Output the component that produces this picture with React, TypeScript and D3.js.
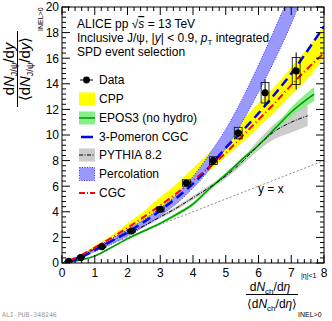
import React from "react";
import * as d3 from "d3";

// measured points
const dataX = [0.2, 0.57, 1.22, 2.12, 3.0, 3.8, 4.62, 5.38, 6.2, 7.15];
const dataY = [0.12, 0.42, 1.28, 2.5, 4.2, 6.25, 8.0, 10.15, 13.3, 15.0];
const dataStat = [0.01, 0.01, 0.03, 0.05, 0.08, 0.12, 0.2, 0.35, 1.05, 1.45];
const dataSys = [0.02, 0.03, 0.06, 0.1, 0.17, 0.25, 0.3, 0.45, 0.8, 1.05];

// models
const modelX = [0.2, 0.5, 1, 1.5, 2, 2.5, 3, 3.5, 4, 4.5, 5, 5.5, 6, 6.5, 7, 7.5, 8];
const cppMid = [0.15, 0.45, 1.2, 1.9, 2.75, 3.6, 4.6, 5.6, 6.7, 7.9, 9.1, 10.3, 11.55, 12.8, 14.2, 15.6, 17.3];
const cppHalf = [0.03, 0.08, 0.15, 0.25, 0.35, 0.45, 0.55, 0.6, 0.7, 0.75, 0.8, 0.9, 0.95, 1.0, 1.1, 1.2, 1.3];
const pomeron = [0.1, 0.35, 1.0, 1.7, 2.4, 3.2, 4.1, 5.1, 6.2, 7.5, 9.0, 10.3, 11.7, 13.2, 14.8, 16.6, 18.5];
const cgc = [0.15, 0.5, 1.2, 1.95, 2.75, 3.6, 4.5, 5.45, 6.45, 7.5, 8.6, 9.9, 11.2, 12.5, 13.9, 15.2, 16.4];

const percX = [0.2, 1, 2, 3, 3.5, 4, 4.5, 5, 5.5, 6, 6.5, 7, 7.3];
const percMid = [0.12, 1.05, 2.35, 4.0, 5.0, 6.3, 7.9, 9.7, 11.9, 14.4, 17.1, 20.0, 22.0];
const percHalf = [0.05, 0.15, 0.25, 0.3, 0.35, 0.45, 0.6, 0.75, 0.9, 1.05, 1.2, 1.3, 1.4];

const eposX = [0.2, 0.5, 1, 1.5, 2, 2.5, 3, 3.5, 4, 4.5, 5, 5.5, 6, 6.5, 7, 7.7];
const epos = [0.05, 0.2, 0.55, 1.2, 1.9, 2.5, 3.1, 3.8, 4.6, 5.8, 6.9, 8.1, 9.2, 10.5, 11.8, 13.2];
const eposHalf = [0.02, 0.03, 0.05, 0.07, 0.08, 0.1, 0.1, 0.12, 0.14, 0.15, 0.15, 0.15, 0.15, 0.2, 0.35, 0.55];

const pyX = [0.2, 0.5, 1, 1.5, 2, 2.5, 3, 3.5, 4, 4.5, 5, 5.5, 6, 6.5, 7, 7.5];
const pythia = [0.12, 0.4, 1.1, 1.7, 2.3, 2.9, 3.6, 4.3, 5.1, 5.9, 6.8, 7.9, 9.2, 10.3, 11.0, 11.5];
const pyHalf = [0.02, 0.03, 0.05, 0.07, 0.08, 0.1, 0.12, 0.14, 0.16, 0.18, 0.2, 0.25, 0.4, 0.6, 0.8, 0.8];

const legendLabels = ["Data", "CPP", "EPOS3 (no hydro)", "3-Pomeron CGC", "PYTHIA 8.2", "Percolation", "CGC"];

const W = 332;
const H = 321;
const m = { left: 62, right: 324, top: 7, bottom: 263 };
const font = "Liberation Sans, Arial, Helvetica, sans-serif";

export default function App() {
  const x = d3.scaleLinear().domain([0, 8]).range([m.left, m.right]);
  const y = d3.scaleLinear().domain([0, 20]).range([m.bottom, m.top]);

  const band = (xs: number[], mid: number[], half: number[]) =>
    d3
      .area<number>()
      .x((_, i) => x(xs[i]))
      .y0((_, i) => y(mid[i] - half[i]))
      .y1((_, i) => y(mid[i] + half[i]))
      .curve(d3.curveMonotoneX)(mid) || "";
  const line = (xs: number[], vals: number[]) =>
    d3
      .line<number>()
      .x((_, i) => x(xs[i]))
      .y((d) => y(d))
      .curve(d3.curveMonotoneX)(vals) || "";

  const xMinor = d3.range(0, 8.0001, 0.2);
  const yMinor = d3.range(0, 20.0001, 0.4);
  const xMajor = d3.range(0, 9, 1);
  const yMajor = d3.range(0, 21, 2);

  const legY = [80, 99, 118, 137, 155, 174, 193];

  return (
    <svg width={W} height={H} style={{ position: "absolute", left: 0, top: 0, background: "#fff" }} fontFamily={font}>
      <defs>
        <clipPath id="plot">
          <rect x={m.left} y={m.top} width={m.right - m.left} height={m.bottom - m.top} />
        </clipPath>
      </defs>

      <g clipPath="url(#plot)">
        {/* y = x */}
        <line x1={x(0)} y1={y(0)} x2={x(8)} y2={y(8)} stroke="#888" strokeDasharray="2,2" strokeWidth={1} />
        {/* CPP */}
        <path d={band(modelX, cppMid, cppHalf)} fill="#ffff00" />
        {/* PYTHIA band */}
        <path d={band(pyX, pythia, pyHalf)} fill="#cccccc" />
        {/* EPOS band */}
        <path d={band(eposX, epos, eposHalf)} fill="#88ee88" />
        {/* Percolation */}
        <path d={band(percX, percMid, percHalf)} fill="#9999ff" stroke="#3333ff" strokeWidth={1} strokeDasharray="1,1.5" />
        <path d={line(eposX, epos)} fill="none" stroke="#009900" strokeWidth={1.5} />
        <path d={line(pyX, pythia)} fill="none" stroke="#000" strokeWidth={1} strokeDasharray="4,1.5,1,1.5" />
        <path d={line(modelX, pomeron)} fill="none" stroke="#0000ff" strokeWidth={2.5} strokeDasharray="9,5" />
        <path d={line(modelX, cgc)} fill="none" stroke="#ff0000" strokeWidth={2} strokeDasharray="7,3,1,3" />

        {/* data */}
        {dataX.map((d, i) => (
          <g key={i}>
            <rect
              x={x(d - 0.12)}
              y={y(dataY[i] + dataSys[i])}
              width={x(d + 0.12) - x(d - 0.12)}
              height={y(dataY[i] - dataSys[i]) - y(dataY[i] + dataSys[i])}
              fill="none"
              stroke="#000"
              strokeWidth={0.8}
            />
            <line x1={x(d)} x2={x(d)} y1={y(dataY[i] - dataStat[i])} y2={y(dataY[i] + dataStat[i])} stroke="#000" strokeWidth={1} />
            <circle cx={x(d)} cy={y(dataY[i])} r={3.6} fill="#000" />
          </g>
        ))}
      </g>

      {/* frame and ticks */}
      <rect x={m.left} y={m.top} width={m.right - m.left} height={m.bottom - m.top} fill="none" stroke="#000" strokeWidth={1} />
      {xMinor.map((v, i) => {
        const len = Math.abs(v - Math.round(v)) < 1e-6 ? 8 : 4;
        return (
          <g key={"xt" + i}>
            <line x1={x(v)} x2={x(v)} y1={m.bottom} y2={m.bottom - len} stroke="#000" />
            <line x1={x(v)} x2={x(v)} y1={m.top} y2={m.top + len} stroke="#000" />
          </g>
        );
      })}
      {yMinor.map((v, i) => {
        const len = Math.abs(v / 2 - Math.round(v / 2)) < 1e-6 ? 8 : 4;
        return (
          <g key={"yt" + i}>
            <line x1={m.left} x2={m.left + len} y1={y(v)} y2={y(v)} stroke="#000" />
            <line x1={m.right} x2={m.right - len} y1={y(v)} y2={y(v)} stroke="#000" />
          </g>
        );
      })}
      {xMajor.map((v) => (
        <text key={"xl" + v} x={x(v)} y={276.5} fontSize={12} textAnchor="middle">
          {v}
        </text>
      ))}
      {yMajor.map((v) => (
        <text key={"yl" + v} x={59} y={y(v) + 4.3} fontSize={12} textAnchor="end">
          {v}
        </text>
      ))}

      {/* header */}
      <text x={77} y={28} fontSize={12}>
        ALICE pp <tspan>√</tspan>
        <tspan fontStyle="italic" style={{ textDecoration: "overline" }}>s</tspan> = 13 TeV
      </text>
      <text x={77} y={42} fontSize={12}>
        Inclusive J/ψ, |<tspan fontStyle="italic">y</tspan>| &lt; 0.9, <tspan fontStyle="italic">p</tspan>
        <tspan fontSize={8} dy={3}>T</tspan>
        <tspan dy={-3}> integrated</tspan>
      </text>
      <text x={77} y={56} fontSize={12}>
        SPD event selection
      </text>

      {/* legend */}
      <g fontSize={12}>
        {legendLabels.map((t, i) => (
          <text key={t} x={99} y={legY[i] + 4.3}>
            {t}
          </text>
        ))}
        <line x1={80} x2={93} y1={legY[0]} y2={legY[0]} stroke="#000" />
        <circle cx={86.5} cy={legY[0]} r={3.4} fill="#000" />
        <rect x={79} y={legY[1] - 6.5} width={16} height={13} fill="#ffff00" />
        <rect x={79} y={legY[2] - 6.5} width={16} height={13} fill="#88ee88" />
        <line x1={79} x2={95} y1={legY[2]} y2={legY[2]} stroke="#009900" strokeWidth={1.5} />
        <line x1={81} x2={93} y1={legY[3]} y2={legY[3]} stroke="#0000ff" strokeWidth={2.5} />
        <rect x={79} y={legY[4] - 6.5} width={16} height={13} fill="#cccccc" />
        <line x1={79} x2={95} y1={legY[4]} y2={legY[4]} stroke="#000" strokeDasharray="4,1.5,1,1.5" />
        <rect x={79.5} y={legY[5] - 6.5} width={15} height={13} fill="#9999ff" stroke="#3333ff" strokeDasharray="1,1.5" />
        <line x1={79} x2={95} y1={legY[6]} y2={legY[6]} stroke="#ff0000" strokeWidth={2} strokeDasharray="6,2,1,2" />
      </g>

      {/* y = x label */}
      <text x={258} y={193} fontSize={12}>
        y = x
      </text>

      {/* y title */}
      <g transform="translate(0,69) rotate(-90)" fontSize={15}>
        <text x={0} y={14} textAnchor="middle">
          d<tspan fontStyle="italic">N</tspan>
          <tspan fontSize={9} dy={3}>J/ψ</tspan>
          <tspan dy={-3}>/d</tspan>
          <tspan fontStyle="italic">y</tspan>
        </text>
        <line x1={-38} x2={38} y1={17.5} y2={17.5} stroke="#000" />
        <text x={0} y={30} textAnchor="middle">
          ⟨d<tspan fontStyle="italic">N</tspan>
          <tspan fontSize={9} dy={3}>J/ψ</tspan>
          <tspan dy={-3}>/d</tspan>
          <tspan fontStyle="italic">y</tspan>⟩
        </text>
        <text x={38} y={43} fontSize={7}>
          INEL&gt;0
        </text>
      </g>

      {/* x title */}
      <g fontSize={12}>
        <text x={270} y={291} textAnchor="middle">
          d<tspan fontStyle="italic">N</tspan>
          <tspan fontSize={8} dy={3}>ch</tspan>
          <tspan dy={-3}>/d</tspan>
          <tspan fontStyle="italic">η</tspan>
        </text>
        <text x={301} y={278} fontSize={7}>
          |η|&lt;1
        </text>
        <line x1={246} x2={298} y1={294.5} y2={294.5} stroke="#000" />
        <text x={272} y={308} textAnchor="middle">
          ⟨d<tspan fontStyle="italic">N</tspan>
          <tspan fontSize={8} dy={3}>ch</tspan>
          <tspan dy={-3}>/d</tspan>
          <tspan fontStyle="italic">η</tspan>⟩
        </text>
        <text x={298} y={317} fontSize={7}>
          INEL&gt;0
        </text>
      </g>

      <text x={2} y={317} fontSize={6.5} fontFamily="DejaVu Sans Mono, monospace" fill="#999">
        ALI-PUB-348246
      </text>
    </svg>
  );
}
